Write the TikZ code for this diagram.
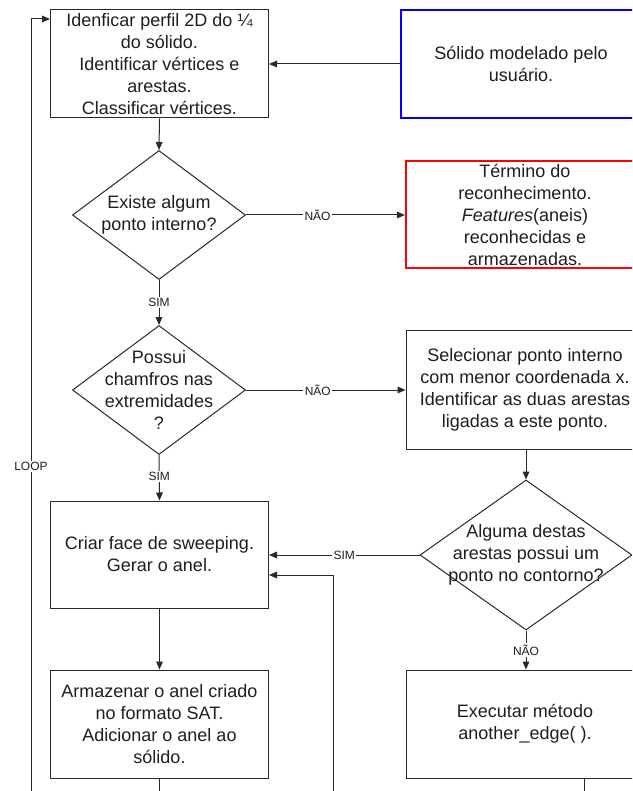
\documentclass[tikz,border=0pt]{standalone}
\usepackage{fontspec}
\setmainfont{Liberation Sans}
\usetikzlibrary{shapes.geometric,arrows.meta}
\begin{document}
\begin{tikzpicture}[x=0.75pt, y=-0.75pt,
        every node/.style={text=textgray},
        caixa/.style={draw=linegray, shape=rectangle, line width=0.75pt, inner sep=1pt, align=center, font=\fontsize{13.5}{16.5}\selectfont},
        losango/.style={draw=linegray, shape=diamond, line width=0.75pt, inner sep=0pt},
        texto/.style={align=center, inner sep=0pt, font=\fontsize{13.5}{16.5}\selectfont},
        rotulo/.style={fill=white, inner sep=1pt, font=\fontsize{9}{10}\selectfont},
        seta/.style={draw=linegray, line width=0.75pt, -{Triangle[length=6pt, width=5pt]}},
        linha/.style={draw=linegray, line width=0.75pt}]
            \useasboundingbox (0,0) rectangle (632,791);
            \clip (0,0) rectangle (632,791);
            \definecolor{textgray}{RGB}{30, 30, 30}
            \definecolor{linegray}{RGB}{40, 40, 40}
            \definecolor{azul}{RGB}{0, 0, 255}
            \definecolor{vermelho}{RGB}{255, 0, 0}
            \def\boxw{163.5pt}
            \def\boxh{81pt}
            \def\dw{129.75pt}
            \def\dh{96.75pt}
            % coluna da esquerda
            \node[caixa, minimum width=\boxw, minimum height=\boxh] (perfil) at (159.5, 64) {Idenficar perfil 2D do ¼\\do sólido.\\Identificar vértices e\\arestas.\\Classificar vértices.};
            \node[losango, minimum width=\dw, minimum height=\dh] (interno) at (159, 215) {};
            \node[texto] (internotxt) at (interno.center) {Existe algum\\ponto interno?};
            \node[losango, minimum width=\dw, minimum height=\dh] (chanfro) at (159, 390) {};
            \node[texto] (chanfrotxt) at (chanfro.center) {Possui\\chamfros nas\\extremidades\\?};
            \node[caixa, minimum width=\boxw, minimum height=80.25pt] (sweep) at (159.5, 554.5) {Criar face de sweeping.\\Gerar o anel.};
            \node[caixa, minimum width=\boxw, minimum height=\boxh] (armazena) at (159.5, 724) {Armazenar o anel criado\\no formato SAT.\\Adicionar o anel ao\\sólido.};
            % coluna da direita
            \node[caixa, draw=azul, line width=1.6pt, minimum width=180pt, minimum height=\boxh] (usuario) at (521, 64) {Sólido modelado pelo\\usuário.};
            \node[caixa, draw=vermelho, line width=1.6pt, minimum width=178.5pt, minimum height=80.25pt] (fim) at (525, 214.5) {Término do\\reconhecimento.\\\textit{Features}(aneis)\\reconhecidas e\\armazenadas.};
            \node[caixa, minimum width=178.5pt, minimum height=89.25pt] (seleciona) at (525, 389.5) {Selecionar ponto interno\\com menor coordenada x.\\Identificar as duas arestas\\ligadas a este ponto.};
            \node[losango, minimum width=159pt, minimum height=112.5pt] (contorno) at (526, 555) {};
            \node[texto] (contornotxt) at (contorno.center) {Alguma destas\\arestas possui um\\ponto no contorno?};
            \node[caixa, minimum width=178.5pt, minimum height=\boxh] (outra) at (525, 724) {Executar método\\another\_edge( ).};
            % pontas soltas
            \coordinate (loopbase) at (31, 791);
            \coordinate (loopy) at (0, 19);
            \coordinate (retbase) at (333, 791);
            \coordinate (armbase) at (159.5, 791);
            \coordinate (outrabase) at (584, 791);
            % ligacoes
            \draw[seta] (usuario.west) -- (perfil.east |- usuario.west);
            \draw[seta] (perfil.south) -- (interno.north);
            \draw[seta] (interno.east) -- node[rotulo, pos=0.45] (nao1) {NÃO} (fim.west |- interno.east);
            \draw[seta] (interno.south) -- node[rotulo] (sim1) {SIM} (chanfro.north);
            \draw[seta] (chanfro.east) -- node[rotulo, pos=0.45] (nao2) {NÃO} (seleciona.west |- chanfro.east);
            \draw[seta] (chanfro.south) -- node[rotulo, pos=0.47] (sim2) {SIM} (sweep.north);
            \draw[seta] (seleciona.south -| contorno.north) -- (contorno.north);
            \draw[seta] (contorno.west) -- node[rotulo] (sim3) {SIM} (sweep.east |- contorno.west);
            \draw[seta] (contorno.south) -- node[rotulo] (nao3) {NÃO} (outra.north -| contorno.south);
            \draw[seta] (sweep.south) -- (armazena.north);
            \draw[linha] (armazena.south) -- (armbase);
            \draw[linha] (outrabase |- outra.south) -- (outrabase);
            \draw[seta] (retbase) |- ([yshift=-15.4pt]sweep.east);
            \draw[seta] (loopbase) |- node[rotulo, pos=0.21] (loop) {LOOP} (perfil.west |- loopy);
\end{tikzpicture}
\end{document}
